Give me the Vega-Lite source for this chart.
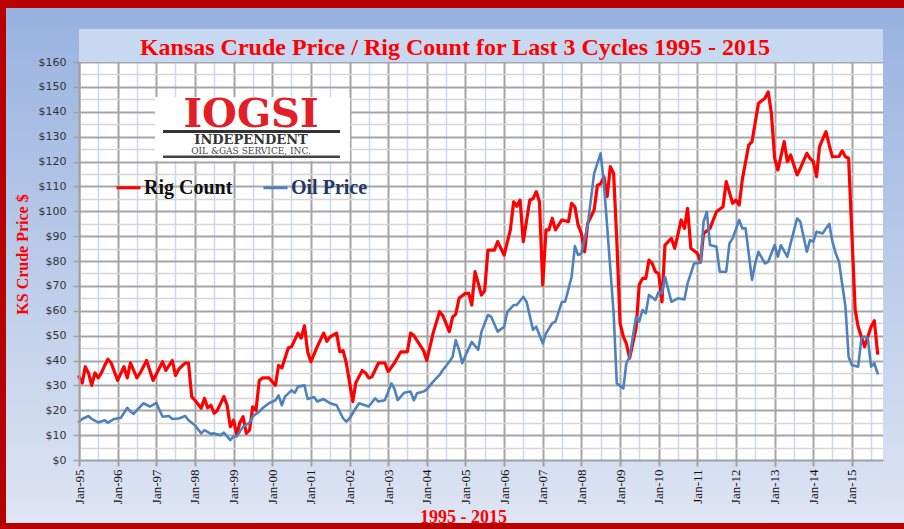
{
"$schema": "https://vega.github.io/schema/vega-lite/v6.json",
"width": 804,
"height": 398,
"autosize": {"type": "none"},
"padding": {"left": 79, "top": 62, "right": 21, "bottom": 69},
"background": "#b80000",
"config": {
  "view": {"fill": "#ffffff", "stroke": "#bfbfbf", "strokeWidth": 1}
},
"title": {"text": "Kansas Crude Price / Rig Count for Last 3 Cycles 1995 - 2015", "font": "Liberation Serif", "fontSize": 24, "fontWeight": "bold", "color": "#ff0000", "frame": "group", "anchor": "middle", "dx": -26, "dy": 80, "baseline": "alphabetic", "offset": 9},
"datasets": {"prices": [
{"d":"1995-01-01","s":"Rig Count","v":33.5},{"d":"1995-02-01","s":"Rig Count","v":31},{"d":"1995-03-01","s":"Rig Count","v":37.5},{"d":"1995-04-01","s":"Rig Count","v":35},{"d":"1995-05-01","s":"Rig Count","v":30},{"d":"1995-06-01","s":"Rig Count","v":35},{"d":"1995-07-01","s":"Rig Count","v":33},{"d":"1995-08-01","s":"Rig Count","v":35},{"d":"1995-09-01","s":"Rig Count","v":38},{"d":"1995-10-01","s":"Rig Count","v":40.5},{"d":"1995-11-01","s":"Rig Count","v":39},
{"d":"1996-01-01","s":"Rig Count","v":32},{"d":"1996-03-01","s":"Rig Count","v":37.5},{"d":"1996-04-01","s":"Rig Count","v":33},{"d":"1996-05-01","s":"Rig Count","v":39},{"d":"1996-07-01","s":"Rig Count","v":33},{"d":"1996-08-01","s":"Rig Count","v":35},{"d":"1996-10-01","s":"Rig Count","v":40},{"d":"1996-12-01","s":"Rig Count","v":32},
{"d":"1997-03-01","s":"Rig Count","v":39.5},{"d":"1997-04-01","s":"Rig Count","v":36},{"d":"1997-06-01","s":"Rig Count","v":40},{"d":"1997-07-01","s":"Rig Count","v":34},{"d":"1997-08-01","s":"Rig Count","v":36.5},{"d":"1997-10-01","s":"Rig Count","v":39},{"d":"1997-11-01","s":"Rig Count","v":39},{"d":"1997-12-01","s":"Rig Count","v":25.5},
{"d":"1998-01-01","s":"Rig Count","v":24},{"d":"1998-03-01","s":"Rig Count","v":20.8},{"d":"1998-04-01","s":"Rig Count","v":24.8},{"d":"1998-05-01","s":"Rig Count","v":21},{"d":"1998-06-01","s":"Rig Count","v":22},{"d":"1998-07-01","s":"Rig Count","v":18.8},{"d":"1998-08-01","s":"Rig Count","v":20},{"d":"1998-10-01","s":"Rig Count","v":25.5},{"d":"1998-11-01","s":"Rig Count","v":22},{"d":"1998-12-01","s":"Rig Count","v":13.4},
{"d":"1999-01-01","s":"Rig Count","v":16},{"d":"1999-02-01","s":"Rig Count","v":10},{"d":"1999-03-01","s":"Rig Count","v":15},{"d":"1999-04-01","s":"Rig Count","v":17.4},{"d":"1999-05-01","s":"Rig Count","v":10.7},{"d":"1999-06-01","s":"Rig Count","v":12},{"d":"1999-07-01","s":"Rig Count","v":21.4},{"d":"1999-08-01","s":"Rig Count","v":20},{"d":"1999-09-01","s":"Rig Count","v":32},{"d":"1999-10-01","s":"Rig Count","v":33},{"d":"1999-12-01","s":"Rig Count","v":33},
{"d":"2000-01-01","s":"Rig Count","v":31.5},{"d":"2000-02-01","s":"Rig Count","v":30},{"d":"2000-03-01","s":"Rig Count","v":38},{"d":"2000-04-01","s":"Rig Count","v":37},{"d":"2000-06-01","s":"Rig Count","v":45},{"d":"2000-07-01","s":"Rig Count","v":45.5},{"d":"2000-09-01","s":"Rig Count","v":51},{"d":"2000-10-01","s":"Rig Count","v":49},{"d":"2000-11-01","s":"Rig Count","v":54},{"d":"2000-12-01","s":"Rig Count","v":43.5},
{"d":"2001-01-01","s":"Rig Count","v":39.5},{"d":"2001-03-01","s":"Rig Count","v":45.5},{"d":"2001-05-01","s":"Rig Count","v":51},{"d":"2001-06-01","s":"Rig Count","v":47.7},{"d":"2001-07-01","s":"Rig Count","v":49.5},{"d":"2001-09-01","s":"Rig Count","v":51},{"d":"2001-10-01","s":"Rig Count","v":43.5},{"d":"2001-11-01","s":"Rig Count","v":44},{"d":"2001-12-01","s":"Rig Count","v":39},
{"d":"2002-02-01","s":"Rig Count","v":23.5},{"d":"2002-03-01","s":"Rig Count","v":31},{"d":"2002-05-01","s":"Rig Count","v":36},{"d":"2002-06-01","s":"Rig Count","v":35},{"d":"2002-07-01","s":"Rig Count","v":33},{"d":"2002-08-01","s":"Rig Count","v":33.5},{"d":"2002-10-01","s":"Rig Count","v":39},{"d":"2002-12-01","s":"Rig Count","v":39},
{"d":"2003-01-01","s":"Rig Count","v":35.5},{"d":"2003-03-01","s":"Rig Count","v":39},{"d":"2003-05-01","s":"Rig Count","v":43.5},{"d":"2003-07-01","s":"Rig Count","v":43.5},{"d":"2003-08-01","s":"Rig Count","v":51},{"d":"2003-09-01","s":"Rig Count","v":50},{"d":"2003-12-01","s":"Rig Count","v":44},
{"d":"2004-01-01","s":"Rig Count","v":40},{"d":"2004-03-01","s":"Rig Count","v":51},{"d":"2004-05-01","s":"Rig Count","v":59.6},{"d":"2004-06-01","s":"Rig Count","v":58},{"d":"2004-08-01","s":"Rig Count","v":51.6},{"d":"2004-09-01","s":"Rig Count","v":57.5},{"d":"2004-10-01","s":"Rig Count","v":58.6},{"d":"2004-11-01","s":"Rig Count","v":65},
{"d":"2005-01-01","s":"Rig Count","v":67},{"d":"2005-02-01","s":"Rig Count","v":67},{"d":"2005-03-01","s":"Rig Count","v":62.3},{"d":"2005-04-01","s":"Rig Count","v":75.7},{"d":"2005-06-01","s":"Rig Count","v":66.3},{"d":"2005-07-01","s":"Rig Count","v":68},{"d":"2005-08-01","s":"Rig Count","v":84.4},{"d":"2005-10-01","s":"Rig Count","v":84.4},{"d":"2005-11-01","s":"Rig Count","v":87.8},
{"d":"2006-01-01","s":"Rig Count","v":82.4},{"d":"2006-03-01","s":"Rig Count","v":92.5},{"d":"2006-04-01","s":"Rig Count","v":103.8},{"d":"2006-05-01","s":"Rig Count","v":102},{"d":"2006-06-01","s":"Rig Count","v":104.5},{"d":"2006-07-01","s":"Rig Count","v":87.8},{"d":"2006-09-01","s":"Rig Count","v":104.5},{"d":"2006-10-01","s":"Rig Count","v":105},{"d":"2006-11-01","s":"Rig Count","v":107.9},{"d":"2006-12-01","s":"Rig Count","v":103.8},
{"d":"2007-01-01","s":"Rig Count","v":70.4},{"d":"2007-02-01","s":"Rig Count","v":92.5},{"d":"2007-03-01","s":"Rig Count","v":92.5},{"d":"2007-04-01","s":"Rig Count","v":97.2},{"d":"2007-05-01","s":"Rig Count","v":92.5},{"d":"2007-07-01","s":"Rig Count","v":96.5},{"d":"2007-09-01","s":"Rig Count","v":95.8},{"d":"2007-10-01","s":"Rig Count","v":103.2},{"d":"2007-11-01","s":"Rig Count","v":101.8},{"d":"2007-12-01","s":"Rig Count","v":94.5},
{"d":"2008-01-01","s":"Rig Count","v":91.1},{"d":"2008-02-01","s":"Rig Count","v":83.7},{"d":"2008-03-01","s":"Rig Count","v":95.1},{"d":"2008-05-01","s":"Rig Count","v":100.5},{"d":"2008-06-01","s":"Rig Count","v":110.5},{"d":"2008-07-01","s":"Rig Count","v":111},{"d":"2008-08-01","s":"Rig Count","v":113.9},{"d":"2008-09-01","s":"Rig Count","v":105.9},{"d":"2008-10-01","s":"Rig Count","v":117.9},{"d":"2008-11-01","s":"Rig Count","v":115.2},{"d":"2008-12-01","s":"Rig Count","v":88.4},
{"d":"2009-01-01","s":"Rig Count","v":55},{"d":"2009-02-01","s":"Rig Count","v":49.6},{"d":"2009-03-01","s":"Rig Count","v":46.9},{"d":"2009-04-01","s":"Rig Count","v":40.9},{"d":"2009-06-01","s":"Rig Count","v":52.9},{"d":"2009-07-01","s":"Rig Count","v":70.4},{"d":"2009-08-01","s":"Rig Count","v":73},{"d":"2009-09-01","s":"Rig Count","v":73},{"d":"2009-10-01","s":"Rig Count","v":80.4},{"d":"2009-11-01","s":"Rig Count","v":79},{"d":"2009-12-01","s":"Rig Count","v":75.7},
{"d":"2010-01-01","s":"Rig Count","v":74.9},{"d":"2010-02-01","s":"Rig Count","v":63.6},{"d":"2010-03-01","s":"Rig Count","v":86.4},{"d":"2010-05-01","s":"Rig Count","v":89.1},{"d":"2010-06-01","s":"Rig Count","v":85.1},{"d":"2010-07-01","s":"Rig Count","v":90.5},{"d":"2010-08-01","s":"Rig Count","v":96.5},{"d":"2010-09-01","s":"Rig Count","v":93.1},{"d":"2010-10-01","s":"Rig Count","v":101.2},{"d":"2010-11-01","s":"Rig Count","v":85.1},
{"d":"2011-01-01","s":"Rig Count","v":83.1},{"d":"2011-02-01","s":"Rig Count","v":79.7},{"d":"2011-03-01","s":"Rig Count","v":91.1},{"d":"2011-05-01","s":"Rig Count","v":93.1},{"d":"2011-07-01","s":"Rig Count","v":99.8},{"d":"2011-09-01","s":"Rig Count","v":101.8},{"d":"2011-10-01","s":"Rig Count","v":111.9},{"d":"2011-12-01","s":"Rig Count","v":103.2},
{"d":"2012-01-01","s":"Rig Count","v":104.5},{"d":"2012-02-01","s":"Rig Count","v":102.5},{"d":"2012-03-01","s":"Rig Count","v":112.6},{"d":"2012-05-01","s":"Rig Count","v":126.6},{"d":"2012-06-01","s":"Rig Count","v":128},{"d":"2012-08-01","s":"Rig Count","v":143.4},{"d":"2012-10-01","s":"Rig Count","v":145.4},{"d":"2012-11-01","s":"Rig Count","v":148},{"d":"2012-12-01","s":"Rig Count","v":139.4},
{"d":"2013-01-01","s":"Rig Count","v":121.3},{"d":"2013-02-01","s":"Rig Count","v":116.6},{"d":"2013-04-01","s":"Rig Count","v":128},{"d":"2013-05-01","s":"Rig Count","v":119.9},{"d":"2013-06-01","s":"Rig Count","v":122.6},{"d":"2013-08-01","s":"Rig Count","v":114.6},{"d":"2013-09-01","s":"Rig Count","v":117.3},{"d":"2013-11-01","s":"Rig Count","v":123.3},{"d":"2013-12-01","s":"Rig Count","v":121.3},
{"d":"2014-01-01","s":"Rig Count","v":120},{"d":"2014-02-01","s":"Rig Count","v":113.9},{"d":"2014-03-01","s":"Rig Count","v":126},{"d":"2014-05-01","s":"Rig Count","v":132},{"d":"2014-06-01","s":"Rig Count","v":126.6},{"d":"2014-07-01","s":"Rig Count","v":121.9},{"d":"2014-09-01","s":"Rig Count","v":122},{"d":"2014-10-01","s":"Rig Count","v":124.3},{"d":"2014-11-01","s":"Rig Count","v":121.9},{"d":"2014-12-01","s":"Rig Count","v":121.3},
{"d":"2015-02-01","s":"Rig Count","v":60.3},{"d":"2015-03-01","s":"Rig Count","v":53.6},{"d":"2015-05-01","s":"Rig Count","v":45.5},{"d":"2015-06-01","s":"Rig Count","v":49.6},{"d":"2015-07-01","s":"Rig Count","v":53.6},{"d":"2015-08-01","s":"Rig Count","v":56},{"d":"2015-09-01","s":"Rig Count","v":42.9},
{"d":"1995-01-01","s":"Oil Price","v":15.4},{"d":"1995-02-01","s":"Oil Price","v":16.5},{"d":"1995-04-01","s":"Oil Price","v":17.7},{"d":"1995-05-01","s":"Oil Price","v":16.5},{"d":"1995-07-01","s":"Oil Price","v":15.1},{"d":"1995-09-01","s":"Oil Price","v":16},{"d":"1995-10-01","s":"Oil Price","v":15},{"d":"1995-12-01","s":"Oil Price","v":16.5},
{"d":"1996-02-01","s":"Oil Price","v":17},{"d":"1996-04-01","s":"Oil Price","v":21},{"d":"1996-05-01","s":"Oil Price","v":19.5},{"d":"1996-06-01","s":"Oil Price","v":18.5},{"d":"1996-07-01","s":"Oil Price","v":20},{"d":"1996-09-01","s":"Oil Price","v":22.8},{"d":"1996-11-01","s":"Oil Price","v":21.5},
{"d":"1997-01-01","s":"Oil Price","v":23},{"d":"1997-02-01","s":"Oil Price","v":20},{"d":"1997-03-01","s":"Oil Price","v":17.4},{"d":"1997-05-01","s":"Oil Price","v":17.7},{"d":"1997-06-01","s":"Oil Price","v":16.5},{"d":"1997-08-01","s":"Oil Price","v":16.7},{"d":"1997-10-01","s":"Oil Price","v":17.7},{"d":"1997-11-01","s":"Oil Price","v":16},
{"d":"1998-01-01","s":"Oil Price","v":14},{"d":"1998-03-01","s":"Oil Price","v":10.7},{"d":"1998-04-01","s":"Oil Price","v":12},{"d":"1998-06-01","s":"Oil Price","v":10.5},{"d":"1998-07-01","s":"Oil Price","v":10.7},{"d":"1998-09-01","s":"Oil Price","v":10},{"d":"1998-10-01","s":"Oil Price","v":11},{"d":"1998-12-01","s":"Oil Price","v":8},
{"d":"1999-01-01","s":"Oil Price","v":9.5},{"d":"1999-02-01","s":"Oil Price","v":9.5},{"d":"1999-04-01","s":"Oil Price","v":13.4},{"d":"1999-06-01","s":"Oil Price","v":15},{"d":"1999-07-01","s":"Oil Price","v":17.5},{"d":"1999-09-01","s":"Oil Price","v":19.5},{"d":"1999-10-01","s":"Oil Price","v":20.8},{"d":"1999-12-01","s":"Oil Price","v":22.8},
{"d":"2000-02-01","s":"Oil Price","v":24},{"d":"2000-03-01","s":"Oil Price","v":26},{"d":"2000-04-01","s":"Oil Price","v":22},{"d":"2000-05-01","s":"Oil Price","v":25.5},{"d":"2000-07-01","s":"Oil Price","v":28},{"d":"2000-08-01","s":"Oil Price","v":27},{"d":"2000-09-01","s":"Oil Price","v":29.5},{"d":"2000-11-01","s":"Oil Price","v":30},{"d":"2000-12-01","s":"Oil Price","v":24.5},
{"d":"2001-02-01","s":"Oil Price","v":25.3},{"d":"2001-03-01","s":"Oil Price","v":23.5},{"d":"2001-05-01","s":"Oil Price","v":24.5},{"d":"2001-07-01","s":"Oil Price","v":22.8},{"d":"2001-09-01","s":"Oil Price","v":22},{"d":"2001-11-01","s":"Oil Price","v":16.7},{"d":"2001-12-01","s":"Oil Price","v":15.4},
{"d":"2002-01-01","s":"Oil Price","v":16.7},{"d":"2002-03-01","s":"Oil Price","v":20.8},{"d":"2002-04-01","s":"Oil Price","v":22.8},{"d":"2002-07-01","s":"Oil Price","v":21.5},{"d":"2002-09-01","s":"Oil Price","v":24.8},{"d":"2002-10-01","s":"Oil Price","v":23.5},{"d":"2002-12-01","s":"Oil Price","v":24},
{"d":"2003-02-01","s":"Oil Price","v":30.8},{"d":"2003-03-01","s":"Oil Price","v":28.7},{"d":"2003-04-01","s":"Oil Price","v":24.1},{"d":"2003-06-01","s":"Oil Price","v":27},{"d":"2003-08-01","s":"Oil Price","v":27.5},{"d":"2003-09-01","s":"Oil Price","v":24},{"d":"2003-10-01","s":"Oil Price","v":26.8},{"d":"2003-12-01","s":"Oil Price","v":27.5},
{"d":"2004-01-01","s":"Oil Price","v":28.4},{"d":"2004-03-01","s":"Oil Price","v":31.5},{"d":"2004-05-01","s":"Oil Price","v":34.2},{"d":"2004-06-01","s":"Oil Price","v":36.2},{"d":"2004-08-01","s":"Oil Price","v":39.5},{"d":"2004-09-01","s":"Oil Price","v":41.5},{"d":"2004-10-01","s":"Oil Price","v":48.2},{"d":"2004-11-01","s":"Oil Price","v":44.3},{"d":"2004-12-01","s":"Oil Price","v":38.9},
{"d":"2005-01-01","s":"Oil Price","v":42},{"d":"2005-03-01","s":"Oil Price","v":47.5},{"d":"2005-05-01","s":"Oil Price","v":44.3},{"d":"2005-06-01","s":"Oil Price","v":51.6},{"d":"2005-08-01","s":"Oil Price","v":58.3},{"d":"2005-09-01","s":"Oil Price","v":57.6},{"d":"2005-11-01","s":"Oil Price","v":51.6},
{"d":"2006-01-01","s":"Oil Price","v":53.6},{"d":"2006-02-01","s":"Oil Price","v":59.6},{"d":"2006-04-01","s":"Oil Price","v":62.3},{"d":"2006-05-01","s":"Oil Price","v":62.3},{"d":"2006-07-01","s":"Oil Price","v":65.6},{"d":"2006-08-01","s":"Oil Price","v":63.6},{"d":"2006-10-01","s":"Oil Price","v":52.3},{"d":"2006-11-01","s":"Oil Price","v":53.6},
{"d":"2007-01-01","s":"Oil Price","v":46.9},{"d":"2007-02-01","s":"Oil Price","v":50.9},{"d":"2007-04-01","s":"Oil Price","v":55},{"d":"2007-05-01","s":"Oil Price","v":55.6},{"d":"2007-07-01","s":"Oil Price","v":63.6},{"d":"2007-08-01","s":"Oil Price","v":63.6},{"d":"2007-10-01","s":"Oil Price","v":73.7},{"d":"2007-11-01","s":"Oil Price","v":86},{"d":"2007-12-01","s":"Oil Price","v":82.4},
{"d":"2008-01-01","s":"Oil Price","v":83},{"d":"2008-03-01","s":"Oil Price","v":94.5},{"d":"2008-05-01","s":"Oil Price","v":115.2},{"d":"2008-07-01","s":"Oil Price","v":123.3},{"d":"2008-08-01","s":"Oil Price","v":111.2},{"d":"2008-09-01","s":"Oil Price","v":93.8},{"d":"2008-11-01","s":"Oil Price","v":59},{"d":"2008-12-01","s":"Oil Price","v":30.8},
{"d":"2009-02-01","s":"Oil Price","v":28.8},{"d":"2009-03-01","s":"Oil Price","v":38.9},{"d":"2009-04-01","s":"Oil Price","v":41.5},{"d":"2009-06-01","s":"Oil Price","v":57.6},{"d":"2009-07-01","s":"Oil Price","v":55.6},{"d":"2009-08-01","s":"Oil Price","v":60.3},{"d":"2009-09-01","s":"Oil Price","v":59},{"d":"2009-10-01","s":"Oil Price","v":66.3},{"d":"2009-12-01","s":"Oil Price","v":64.3},
{"d":"2010-01-01","s":"Oil Price","v":67.6},{"d":"2010-02-01","s":"Oil Price","v":67},{"d":"2010-03-01","s":"Oil Price","v":73.7},{"d":"2010-05-01","s":"Oil Price","v":63.6},{"d":"2010-07-01","s":"Oil Price","v":65},{"d":"2010-09-01","s":"Oil Price","v":64.5},{"d":"2010-10-01","s":"Oil Price","v":71},{"d":"2010-11-01","s":"Oil Price","v":75},{"d":"2010-12-01","s":"Oil Price","v":79},
{"d":"2011-02-01","s":"Oil Price","v":79.3},{"d":"2011-03-01","s":"Oil Price","v":95.8},{"d":"2011-04-01","s":"Oil Price","v":99.8},{"d":"2011-05-01","s":"Oil Price","v":86.4},{"d":"2011-07-01","s":"Oil Price","v":85.7},{"d":"2011-08-01","s":"Oil Price","v":75.7},{"d":"2011-10-01","s":"Oil Price","v":75.7},{"d":"2011-11-01","s":"Oil Price","v":87.1},{"d":"2011-12-01","s":"Oil Price","v":89.1},
{"d":"2012-02-01","s":"Oil Price","v":96.5},{"d":"2012-03-01","s":"Oil Price","v":93.1},{"d":"2012-04-01","s":"Oil Price","v":93.1},{"d":"2012-06-01","s":"Oil Price","v":72.4},{"d":"2012-07-01","s":"Oil Price","v":79},{"d":"2012-08-01","s":"Oil Price","v":83.7},{"d":"2012-10-01","s":"Oil Price","v":79},{"d":"2012-11-01","s":"Oil Price","v":79.7},
{"d":"2013-01-01","s":"Oil Price","v":86.4},{"d":"2013-02-01","s":"Oil Price","v":81.7},{"d":"2013-03-01","s":"Oil Price","v":86.4},{"d":"2013-05-01","s":"Oil Price","v":81.7},{"d":"2013-06-01","s":"Oil Price","v":87.1},{"d":"2013-08-01","s":"Oil Price","v":97.1},{"d":"2013-09-01","s":"Oil Price","v":95.8},{"d":"2013-11-01","s":"Oil Price","v":83.7},{"d":"2013-12-01","s":"Oil Price","v":88.4},
{"d":"2014-01-01","s":"Oil Price","v":87.8},{"d":"2014-02-01","s":"Oil Price","v":91.8},{"d":"2014-04-01","s":"Oil Price","v":91.1},{"d":"2014-05-01","s":"Oil Price","v":93.1},{"d":"2014-06-01","s":"Oil Price","v":94.9},{"d":"2014-07-01","s":"Oil Price","v":87.8},{"d":"2014-08-01","s":"Oil Price","v":83.1},{"d":"2014-09-01","s":"Oil Price","v":79.7},{"d":"2014-11-01","s":"Oil Price","v":61.6},{"d":"2014-12-01","s":"Oil Price","v":41.5},
{"d":"2015-01-01","s":"Oil Price","v":38.2},{"d":"2015-03-01","s":"Oil Price","v":37.5},{"d":"2015-04-01","s":"Oil Price","v":48.9},{"d":"2015-05-01","s":"Oil Price","v":49.6},{"d":"2015-06-01","s":"Oil Price","v":48.9},{"d":"2015-07-01","s":"Oil Price","v":37.5},{"d":"2015-08-01","s":"Oil Price","v":38.9},{"d":"2015-09-01","s":"Oil Price","v":34.8}
]},
"layer": [
{
 "data": {"values": [{}]},
 "mark": {"type": "rect", "fill": {"gradient": "linear", "x1": 0, "y1": 0, "x2": 0, "y2": 1, "stops": [{"offset": 0, "color": "#98b2e0"}, {"offset": 1, "color": "#dee5f3"}]}},
 "encoding": {
  "x": {"datum": {"year": 1993, "month": 2, "date": 10, "utc": true}, "type": "temporal",
   "scale": {"type": "utc", "domain": [{"year": 1995, "month": 1, "date": 1, "utc": true}, {"year": 2015, "month": 10, "date": 22, "utc": true}], "nice": false},
   "axis": {"orient": "bottom", "grid": true, "labels": false, "ticks": false, "domain": false, "title": null, "zindex": 0,
    "values": [{"year":1995,"month":1,"date":1,"utc":true},{"year":1995,"month":7,"date":1,"utc":true},{"year":1996,"month":1,"date":1,"utc":true},{"year":1996,"month":7,"date":1,"utc":true},{"year":1997,"month":1,"date":1,"utc":true},{"year":1997,"month":7,"date":1,"utc":true},{"year":1998,"month":1,"date":1,"utc":true},{"year":1998,"month":7,"date":1,"utc":true},{"year":1999,"month":1,"date":1,"utc":true},{"year":1999,"month":7,"date":1,"utc":true},{"year":2000,"month":1,"date":1,"utc":true},{"year":2000,"month":7,"date":1,"utc":true},{"year":2001,"month":1,"date":1,"utc":true},{"year":2001,"month":7,"date":1,"utc":true},{"year":2002,"month":1,"date":1,"utc":true},{"year":2002,"month":7,"date":1,"utc":true},{"year":2003,"month":1,"date":1,"utc":true},{"year":2003,"month":7,"date":1,"utc":true},{"year":2004,"month":1,"date":1,"utc":true},{"year":2004,"month":7,"date":1,"utc":true},{"year":2005,"month":1,"date":1,"utc":true},{"year":2005,"month":7,"date":1,"utc":true},{"year":2006,"month":1,"date":1,"utc":true},{"year":2006,"month":7,"date":1,"utc":true},{"year":2007,"month":1,"date":1,"utc":true},{"year":2007,"month":7,"date":1,"utc":true},{"year":2008,"month":1,"date":1,"utc":true},{"year":2008,"month":7,"date":1,"utc":true},{"year":2009,"month":1,"date":1,"utc":true},{"year":2009,"month":7,"date":1,"utc":true},{"year":2010,"month":1,"date":1,"utc":true},{"year":2010,"month":7,"date":1,"utc":true},{"year":2011,"month":1,"date":1,"utc":true},{"year":2011,"month":7,"date":1,"utc":true},{"year":2012,"month":1,"date":1,"utc":true},{"year":2012,"month":7,"date":1,"utc":true},{"year":2013,"month":1,"date":1,"utc":true},{"year":2013,"month":7,"date":1,"utc":true},{"year":2014,"month":1,"date":1,"utc":true},{"year":2014,"month":7,"date":1,"utc":true},{"year":2015,"month":1,"date":1,"utc":true},{"year":2015,"month":7,"date":1,"utc":true}],
    "gridColor": {"condition": {"test": "utcmonth(datum.value) == 0", "value": "#a3a3a3"}, "value": "#c8d9f1"},
    "gridWidth": {"condition": {"test": "utcmonth(datum.value) == 0", "value": 2}, "value": 1.5}}},
  "x2": {"datum": {"year": 1995, "month": 1, "date": 1, "utc": true}},
  "y": {"datum": 181.7, "type": "quantitative", "scale": {"domain": [0, 160], "nice": false, "zero": false},
   "axis": {"orient": "left", "grid": true, "labels": false, "ticks": false, "domain": false, "title": null, "zindex": 0,
    "values": [5,10,15,20,25,30,35,40,45,50,55,60,65,70,75,80,85,90,95,100,105,110,115,120,125,130,135,140,145,150,155,160],
    "gridColor": {"condition": {"test": "datum.value % 10 == 0", "value": "#a6a6a6"}, "value": "#d6d6d6"},
    "gridWidth": {"condition": {"test": "datum.value % 10 == 0", "value": 2}, "value": 1.5}}},
  "y2": {"datum": -25.3}
 }
},
{
 "data": {"values": [{}]},
 "mark": {"type": "rect", "fill": {"gradient": "linear", "x1": 0, "y1": 0, "x2": 0, "y2": 1, "stops": [{"offset": 0, "color": "#98b2e0"}, {"offset": 1, "color": "#dee5f3"}]}},
 "encoding": {
  "x": {"datum": {"year": 2015, "month": 10, "date": 22, "utc": true}, "type": "temporal", "axis": null},
  "x2": {"datum": {"year": 2017, "month": 1, "date": 1, "utc": true}},
  "y": {"datum": 181.7, "type": "quantitative", "axis": null},
  "y2": {"datum": -25.3}
 }
},
{
 "data": {"values": [{}]},
 "mark": {"type": "rect", "fill": {"gradient": "linear", "x1": 0, "y1": 0, "x2": 0, "y2": 1, "stops": [{"offset": 0, "color": "#98b2e0"}, {"offset": 1, "color": "#9fb7e2"}]}},
 "encoding": {
  "x": {"datum": {"year": 1995, "month": 1, "date": 1, "utc": true}, "type": "temporal", "axis": null},
  "x2": {"datum": {"year": 2015, "month": 10, "date": 22, "utc": true}},
  "y": {"datum": 181.7, "type": "quantitative", "axis": null},
  "y2": {"datum": 160}
 }
},
{
 "data": {"values": [{}]},
 "mark": {"type": "rect", "fill": {"gradient": "linear", "x1": 0, "y1": 0, "x2": 0, "y2": 1, "stops": [{"offset": 0, "color": "#d5dff1"}, {"offset": 1, "color": "#dee5f3"}]}},
 "encoding": {
  "x": {"datum": {"year": 1995, "month": 1, "date": 1, "utc": true}, "type": "temporal", "axis": null},
  "x2": {"datum": {"year": 2015, "month": 10, "date": 22, "utc": true}},
  "y": {"datum": 0, "type": "quantitative", "axis": null},
  "y2": {"datum": -25.3}
 }
},
{
 "data": {"values": [{}]},
 "mark": {"type": "rect", "fill": "#c6d9f1"},
 "encoding": {
  "x": {"datum": {"year": 1995, "month": 1, "date": 1, "utc": true}, "type": "temporal", "axis": null},
  "x2": {"datum": {"year": 2015, "month": 10, "date": 22, "utc": true}},
  "y": {"datum": 173.3, "type": "quantitative", "axis": null},
  "y2": {"datum": 160}
 }
},
{
 "data": {"values": [{}]},
 "mark": {"type": "rect", "fill": "#ffffff"},
 "encoding": {
  "x": {"datum": {"year": 1996, "month": 12, "date": 19, "utc": true}, "type": "temporal", "axis": null},
  "x2": {"datum": {"year": 2002, "month": 1, "date": 5, "utc": true}},
  "y": {"datum": 145.9, "type": "quantitative", "axis": null},
  "y2": {"datum": 120.2}
 }
},
{
 "data": {"values": [{}]},
 "mark": {"type": "rule", "color": "#333333", "strokeWidth": 3},
 "encoding": {
  "x": {"datum": {"year": 1997, "month": 3, "date": 5, "utc": true}, "type": "temporal", "axis": null},
  "x2": {"datum": {"year": 2001, "month": 10, "date": 3, "utc": true}},
  "y": {"datum": 132.1, "type": "quantitative", "axis": null}
 }
},
{
 "data": {"values": [{}]},
 "mark": {"type": "rule", "color": "#444444", "strokeWidth": 2.5},
 "encoding": {
  "x": {"datum": {"year": 1997, "month": 3, "date": 5, "utc": true}, "type": "temporal", "axis": null},
  "x2": {"datum": {"year": 2001, "month": 10, "date": 3, "utc": true}},
  "y": {"datum": 121.9, "type": "quantitative", "axis": null}
 }
},
{
 "data": {"values": [{}]},
 "mark": {"type": "text", "text": "IOGSI", "font": "DejaVu Serif", "fontWeight": "bold", "fontSize": 40, "color": "#e41e26", "align": "center", "baseline": "alphabetic"},
 "encoding": {
  "x": {"datum": {"year": 1999, "month": 6, "date": 15, "utc": true}, "type": "temporal", "axis": null},
  "y": {"datum": 133.8, "type": "quantitative", "axis": null}
 }
},
{
 "data": {"values": [{}]},
 "mark": {"type": "text", "text": "INDEPENDENT", "font": "DejaVu Serif", "fontWeight": "bold", "fontSize": 13, "color": "#333333", "align": "center", "baseline": "alphabetic"},
 "encoding": {
  "x": {"datum": {"year": 1999, "month": 6, "date": 15, "utc": true}, "type": "temporal", "axis": null},
  "y": {"datum": 127.0, "type": "quantitative", "axis": null}
 }
},
{
 "data": {"values": [{}]},
 "mark": {"type": "text", "text": "OIL &GAS SERVICE, INC.", "font": "DejaVu Serif", "fontSize": 9, "color": "#444444", "align": "center", "baseline": "alphabetic"},
 "encoding": {
  "x": {"datum": {"year": 1999, "month": 6, "date": 15, "utc": true}, "type": "temporal", "axis": null},
  "y": {"datum": 123.2, "type": "quantitative", "axis": null}
 }
},
{
 "data": {"name": "prices"},
 "transform": [{"filter": "datum.s === 'Rig Count'"}],
 "mark": {"type": "line", "strokeWidth": 3.2, "strokeJoin": "round", "strokeCap": "round"},
 "encoding": {
  "x": {"field": "d", "type": "temporal",
   "axis": {"orient": "bottom", "grid": false, "zindex": 1,
    "values": [{"year":1995,"month":1,"date":1,"utc":true},{"year":1996,"month":1,"date":1,"utc":true},{"year":1997,"month":1,"date":1,"utc":true},{"year":1998,"month":1,"date":1,"utc":true},{"year":1999,"month":1,"date":1,"utc":true},{"year":2000,"month":1,"date":1,"utc":true},{"year":2001,"month":1,"date":1,"utc":true},{"year":2002,"month":1,"date":1,"utc":true},{"year":2003,"month":1,"date":1,"utc":true},{"year":2004,"month":1,"date":1,"utc":true},{"year":2005,"month":1,"date":1,"utc":true},{"year":2006,"month":1,"date":1,"utc":true},{"year":2007,"month":1,"date":1,"utc":true},{"year":2008,"month":1,"date":1,"utc":true},{"year":2009,"month":1,"date":1,"utc":true},{"year":2010,"month":1,"date":1,"utc":true},{"year":2011,"month":1,"date":1,"utc":true},{"year":2012,"month":1,"date":1,"utc":true},{"year":2013,"month":1,"date":1,"utc":true},{"year":2014,"month":1,"date":1,"utc":true},{"year":2015,"month":1,"date":1,"utc":true}],
    "labelExpr": "utcFormat(datum.value, '%b-%y')", "labelAngle": -90, "labelAlign": "right", "labelBaseline": "middle",
    "labelFont": "Liberation Serif", "labelFontSize": 13, "labelColor": "#111111", "labelPadding": 3, "labelFlush": false, "labelOverlap": false,
    "tickSize": 6, "tickColor": "#a0a0a0", "tickWidth": 2, "domainColor": "#a0a0a0", "domainWidth": 2,
    "title": "1995 - 2015", "titleFont": "Liberation Serif", "titleFontSize": 18, "titleFontWeight": "bold", "titleColor": "#ff0000",
    "titleX": 384, "titleY": 62, "titleAlign": "center", "titleBaseline": "alphabetic"}},
  "y": {"field": "v", "type": "quantitative",
   "axis": {"orient": "left", "grid": false, "zindex": 1,
    "values": [0,10,20,30,40,50,60,70,80,90,100,110,120,130,140,150,160],
    "labelExpr": "'$' + datum.value", "labelFont": "DejaVu Sans", "labelFontSize": 11, "labelColor": "#333333", "labelPadding": 7, "labelFlush": false,
    "tickSize": 6, "tickColor": "#a0a0a0", "tickWidth": 1.5, "domainColor": "#a0a0a0", "domainWidth": 2,
    "title": "KS Crude Price $", "titleFont": "Liberation Serif", "titleFontSize": 16, "titleFontWeight": "bold", "titleColor": "#ff0000",
    "titleAngle": -90, "titleX": -57, "titleY": 192, "titleAlign": "center", "titleBaseline": "middle"}},
  "color": {"field": "s", "type": "nominal", "scale": {"domain": ["Rig Count", "Oil Price"], "range": ["#ff0000", "#4f81bd"]},
   "legend": {"orient": "none", "legendX": 36, "legendY": 112, "direction": "horizontal", "title": null, "symbolType": "stroke", "symbolSize": 576, "symbolStrokeWidth": 3, "labelFont": "Liberation Serif", "labelFontSize": 20, "labelFontWeight": "bold", "labelOffset": 2, "columnPadding": 24, "padding": 0, "labelLimit": 300,
    "encode": {"labels": {"update": {"fill": {"signal": "datum.value === 'Rig Count' ? '#111111' : '#1f3864'"}}}}}}
 }
},
{
 "data": {"name": "prices"},
 "transform": [{"filter": "datum.s === 'Oil Price'"}],
 "mark": {"type": "line", "strokeWidth": 2.6, "strokeJoin": "round", "strokeCap": "round"},
 "encoding": {
  "x": {"field": "d", "type": "temporal", "axis": null},
  "y": {"field": "v", "type": "quantitative", "axis": null},
  "color": {"field": "s", "type": "nominal", "scale": {"domain": ["Rig Count", "Oil Price"], "range": ["#ff0000", "#4f81bd"]},
   "legend": {"orient": "none", "legendX": 36, "legendY": 112, "direction": "horizontal", "title": null, "symbolType": "stroke", "symbolSize": 576, "symbolStrokeWidth": 3, "labelFont": "Liberation Serif", "labelFontSize": 20, "labelFontWeight": "bold", "labelOffset": 2, "columnPadding": 24, "padding": 0, "labelLimit": 300,
    "encode": {"labels": {"update": {"fill": {"signal": "datum.value === 'Rig Count' ? '#111111' : '#1f3864'"}}}}}}
 }
}
],
"resolve": {"axis": {"x": "independent", "y": "independent"}}
}
